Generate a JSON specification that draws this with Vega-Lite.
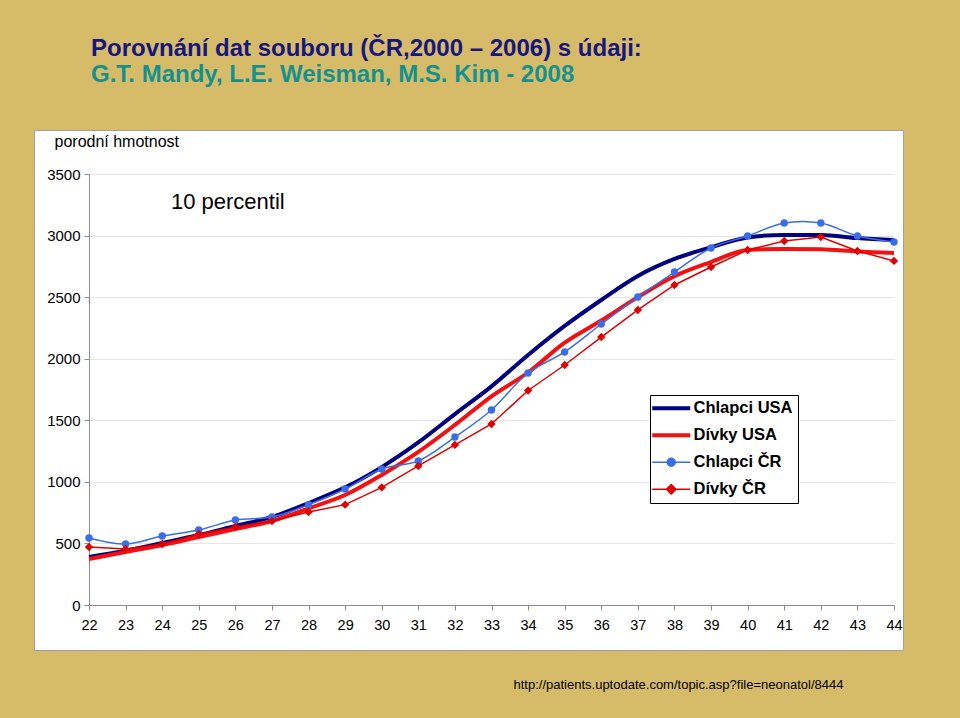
{
  "$schema": "https://vega.github.io/schema/vega-lite/v6.json",
  "width": 869,
  "height": 520,
  "autosize": "none",
  "padding": {"left": 34, "top": 130, "right": 57, "bottom": 68},
  "background": "#d6bc69",
  "config": {
    "view": {"fill": "white", "stroke": "#a0a0a0"},
    "font": "Liberation Sans"
  },
  "title": {
    "text": "Porovnání dat souboru (ČR,2000 – 2006) s údaji:",
    "subtitle": "G.T. Mandy, L.E. Weisman, M.S. Kim - 2008",
    "anchor": "start",
    "frame": "group",
    "dx": 57,
    "offset": 43,
    "font": "Liberation Sans",
    "fontSize": 24,
    "fontWeight": "bold",
    "color": "#16167e",
    "subtitleFont": "Liberation Sans",
    "subtitleFontSize": 24,
    "subtitleFontWeight": "bold",
    "subtitleColor": "#14918e",
    "subtitlePadding": 2
  },
  "data": {
    "values": [
      {"week": 22, "weight": 390, "series": "Chlapci USA"},
      {"week": 23, "weight": 440, "series": "Chlapci USA"},
      {"week": 24, "weight": 503, "series": "Chlapci USA"},
      {"week": 25, "weight": 568, "series": "Chlapci USA"},
      {"week": 26, "weight": 642, "series": "Chlapci USA"},
      {"week": 27, "weight": 715, "series": "Chlapci USA"},
      {"week": 28, "weight": 828, "series": "Chlapci USA"},
      {"week": 29, "weight": 955, "series": "Chlapci USA"},
      {"week": 30, "weight": 1120, "series": "Chlapci USA"},
      {"week": 31, "weight": 1320, "series": "Chlapci USA"},
      {"week": 32, "weight": 1550, "series": "Chlapci USA"},
      {"week": 33, "weight": 1775, "series": "Chlapci USA"},
      {"week": 34, "weight": 2030, "series": "Chlapci USA"},
      {"week": 35, "weight": 2266, "series": "Chlapci USA"},
      {"week": 36, "weight": 2477, "series": "Chlapci USA"},
      {"week": 37, "weight": 2672, "series": "Chlapci USA"},
      {"week": 38, "weight": 2810, "series": "Chlapci USA"},
      {"week": 39, "weight": 2905, "series": "Chlapci USA"},
      {"week": 40, "weight": 2985, "series": "Chlapci USA"},
      {"week": 41, "weight": 3005, "series": "Chlapci USA"},
      {"week": 42, "weight": 3005, "series": "Chlapci USA"},
      {"week": 43, "weight": 2980, "series": "Chlapci USA"},
      {"week": 44, "weight": 2964, "series": "Chlapci USA"},
      {"week": 22, "weight": 374, "series": "Dívky USA"},
      {"week": 23, "weight": 430, "series": "Dívky USA"},
      {"week": 24, "weight": 487, "series": "Dívky USA"},
      {"week": 25, "weight": 552, "series": "Dívky USA"},
      {"week": 26, "weight": 617, "series": "Dívky USA"},
      {"week": 27, "weight": 682, "series": "Dívky USA"},
      {"week": 28, "weight": 785, "series": "Dívky USA"},
      {"week": 29, "weight": 893, "series": "Dívky USA"},
      {"week": 30, "weight": 1056, "series": "Dívky USA"},
      {"week": 31, "weight": 1243, "series": "Dívky USA"},
      {"week": 32, "weight": 1462, "series": "Dívky USA"},
      {"week": 33, "weight": 1695, "series": "Dívky USA"},
      {"week": 34, "weight": 1888, "series": "Dívky USA"},
      {"week": 35, "weight": 2130, "series": "Dívky USA"},
      {"week": 36, "weight": 2310, "series": "Dívky USA"},
      {"week": 37, "weight": 2500, "series": "Dívky USA"},
      {"week": 38, "weight": 2670, "series": "Dívky USA"},
      {"week": 39, "weight": 2785, "series": "Dívky USA"},
      {"week": 40, "weight": 2883, "series": "Dívky USA"},
      {"week": 41, "weight": 2891, "series": "Dívky USA"},
      {"week": 42, "weight": 2888, "series": "Dívky USA"},
      {"week": 43, "weight": 2870, "series": "Dívky USA"},
      {"week": 44, "weight": 2858, "series": "Dívky USA"},
      {"week": 22, "weight": 544, "series": "Chlapci ČR"},
      {"week": 23, "weight": 495, "series": "Chlapci ČR"},
      {"week": 24, "weight": 560, "series": "Chlapci ČR"},
      {"week": 25, "weight": 609, "series": "Chlapci ČR"},
      {"week": 26, "weight": 690, "series": "Chlapci ČR"},
      {"week": 27, "weight": 714, "series": "Chlapci ČR"},
      {"week": 28, "weight": 815, "series": "Chlapci ČR"},
      {"week": 29, "weight": 942, "series": "Chlapci ČR"},
      {"week": 30, "weight": 1104, "series": "Chlapci ČR"},
      {"week": 31, "weight": 1170, "series": "Chlapci ČR"},
      {"week": 32, "weight": 1364, "series": "Chlapci ČR"},
      {"week": 33, "weight": 1584, "series": "Chlapci ČR"},
      {"week": 34, "weight": 1884, "series": "Chlapci ČR"},
      {"week": 35, "weight": 2055, "series": "Chlapci ČR"},
      {"week": 36, "weight": 2282, "series": "Chlapci ČR"},
      {"week": 37, "weight": 2501, "series": "Chlapci ČR"},
      {"week": 38, "weight": 2704, "series": "Chlapci ČR"},
      {"week": 39, "weight": 2899, "series": "Chlapci ČR"},
      {"week": 40, "weight": 2997, "series": "Chlapci ČR"},
      {"week": 41, "weight": 3102, "series": "Chlapci ČR"},
      {"week": 42, "weight": 3102, "series": "Chlapci ČR"},
      {"week": 43, "weight": 2997, "series": "Chlapci ČR"},
      {"week": 44, "weight": 2948, "series": "Chlapci ČR"},
      {"week": 22, "weight": 471, "series": "Dívky ČR"},
      {"week": 23, "weight": 455, "series": "Dívky ČR"},
      {"week": 24, "weight": 495, "series": "Dívky ČR"},
      {"week": 25, "weight": 577, "series": "Dívky ČR"},
      {"week": 26, "weight": 633, "series": "Dívky ČR"},
      {"week": 27, "weight": 682, "series": "Dívky ČR"},
      {"week": 28, "weight": 755, "series": "Dívky ČR"},
      {"week": 29, "weight": 815, "series": "Dívky ČR"},
      {"week": 30, "weight": 955, "series": "Dívky ČR"},
      {"week": 31, "weight": 1129, "series": "Dívky ČR"},
      {"week": 32, "weight": 1300, "series": "Dívky ČR"},
      {"week": 33, "weight": 1470, "series": "Dívky ČR"},
      {"week": 34, "weight": 1742, "series": "Dívky ČR"},
      {"week": 35, "weight": 1949, "series": "Dívky ČR"},
      {"week": 36, "weight": 2176, "series": "Dívky ČR"},
      {"week": 37, "weight": 2396, "series": "Dívky ČR"},
      {"week": 38, "weight": 2599, "series": "Dívky ČR"},
      {"week": 39, "weight": 2745, "series": "Dívky ČR"},
      {"week": 40, "weight": 2883, "series": "Dívky ČR"},
      {"week": 41, "weight": 2956, "series": "Dívky ČR"},
      {"week": 42, "weight": 2988, "series": "Dívky ČR"},
      {"week": 43, "weight": 2875, "series": "Dívky ČR"},
      {"week": 44, "weight": 2794, "series": "Dívky ČR"}
    ]
  },
  "layer": [
    {
      "encoding": {
        "x": {
          "field": "week",
          "type": "quantitative",
          "scale": {"domain": [22, 44], "range": [55, 860], "nice": false, "zero": false},
          "axis": {
            "values": [22, 23, 24, 25, 26, 27, 28, 29, 30, 31, 32, 33, 34, 35, 36, 37, 38, 39, 40, 41, 42, 43, 44],
            "offset": -45,
            "grid": false,
            "domainColor": "#8c8c8c",
            "tickColor": "#8c8c8c",
            "tickSize": 5,
            "labelFont": "Liberation Sans",
            "labelFontSize": 14.5,
            "labelColor": "#000000",
            "labelPadding": 8,
            "labelFlush": false,
            "labelOverlap": false,
            "title": "http://patients.uptodate.com/topic.asp?file=neonatol/8444",
            "titleX": 479,
            "titleY": 83,
            "titleAlign": "left",
            "titleAnchor": null,
            "titleBaseline": "alphabetic",
            "titleFont": "Liberation Sans",
            "titleFontSize": 13,
            "titleFontWeight": "normal",
            "titleColor": "#000000"
          }
        },
        "y": {
          "field": "weight",
          "type": "quantitative",
          "scale": {"domain": [0, 3500], "range": [475, 44], "nice": false},
          "axis": {
            "values": [0, 500, 1000, 1500, 2000, 2500, 3000, 3500],
            "format": "d",
            "offset": -55,
            "grid": true,
            "gridColor": "#e4e4e4",
            "domainColor": "#8c8c8c",
            "tickColor": "#8c8c8c",
            "tickSize": 5,
            "labelFont": "Liberation Sans",
            "labelFontSize": 15,
            "labelColor": "#000000",
            "labelPadding": 4,
            "title": "porodní hmotnost",
            "titleAngle": 0,
            "titleX": -35,
            "titleY": 16,
            "titleAlign": "left",
            "titleAnchor": null,
            "titleBaseline": "alphabetic",
            "titleFont": "Liberation Sans",
            "titleFontSize": 16,
            "titleFontWeight": "normal",
            "titleColor": "#000000"
          }
        },
        "color": {
          "field": "series",
          "type": "nominal",
          "scale": {
            "domain": ["Chlapci USA", "Dívky USA", "Chlapci ČR", "Dívky ČR"],
            "range": ["#000080", "#f21010", "#3a6ee8", "#e00000"]
          },
          "legend": {
            "title": null,
            "orient": "none",
            "legendX": 616,
            "legendY": 265,
            "padding": 5,
            "strokeColor": "#000000",
            "fillColor": "#ffffff",
            "rowPadding": 10,
            "symbolSize": 256,
            "labelOffset": 22,
            "labelFont": "Liberation Sans",
            "labelFontSize": 16.5,
            "labelFontWeight": "bold",
            "labelColor": "#000000",
            "encode": {
              "symbols": {
                "update": {
                  "shape": {"signal": "datum.value == 'Chlapci USA' || datum.value == 'Dívky USA' ? 'M-1.375,0H3.375' : (datum.value == 'Chlapci ČR' ? 'M-1.375,0H3.375M0.5,0A0.5,0.5 0 1,1 1.5,0A0.5,0.5 0 1,1 0.5,0Z' : 'M-1.375,0H3.375M1,-0.6L1.6,0L1,0.6L0.4,0Z')"},
                  "strokeWidth": {"signal": "datum.value == 'Chlapci USA' || datum.value == 'Dívky USA' ? 4 : 1.5"},
                  "fill": {"signal": "scale('color', datum.value)"},
                  "stroke": {"signal": "scale('color', datum.value)"},
                  "opacity": {"value": 1}
                }
              }
            }
          }
        }
      },
      "layer": [
        {
          "transform": [{"filter": {"field": "series", "oneOf": ["Chlapci USA", "Dívky USA"]}}],
          "mark": {"type": "line", "strokeWidth": 4, "interpolate": "monotone"}
        },
        {
          "transform": [{"filter": {"field": "series", "equal": "Chlapci ČR"}}],
          "mark": {"type": "line", "strokeWidth": 1.5, "interpolate": "catmull-rom"}
        },
        {
          "transform": [{"filter": {"field": "series", "equal": "Dívky ČR"}}],
          "mark": {"type": "line", "strokeWidth": 1.5}
        },
        {
          "transform": [{"filter": {"field": "series", "equal": "Chlapci ČR"}}],
          "mark": {"type": "point", "shape": "circle", "filled": true, "size": 55, "opacity": 1}
        },
        {
          "transform": [{"filter": {"field": "series", "equal": "Dívky ČR"}}],
          "mark": {"type": "point", "shape": "diamond", "filled": true, "size": 70, "opacity": 1}
        }
      ]
    },
    {
      "data": {"values": [{"label": "10 percentil"}]},
      "mark": {"type": "text", "align": "left", "baseline": "middle", "font": "Liberation Sans", "fontSize": 22, "color": "#000000"},
      "encoding": {
        "x": {
          "datum": 24.24,
          "type": "quantitative",
          "axis": {
            "values": [22, 23, 24, 25, 26, 27, 28, 29, 30, 31, 32, 33, 34, 35, 36, 37, 38, 39, 40, 41, 42, 43, 44],
            "offset": -45,
            "grid": false,
            "domainColor": "#8c8c8c",
            "tickColor": "#8c8c8c",
            "tickSize": 5,
            "labelFont": "Liberation Sans",
            "labelFontSize": 14.5,
            "labelColor": "#000000",
            "labelPadding": 8,
            "labelFlush": false,
            "labelOverlap": false,
            "title": "http://patients.uptodate.com/topic.asp?file=neonatol/8444",
            "titleX": 479,
            "titleY": 83,
            "titleAlign": "left",
            "titleAnchor": null,
            "titleBaseline": "alphabetic",
            "titleFont": "Liberation Sans",
            "titleFontSize": 13,
            "titleFontWeight": "normal",
            "titleColor": "#000000"
          }
        },
        "y": {
          "datum": 3273,
          "type": "quantitative",
          "axis": {
            "values": [0, 500, 1000, 1500, 2000, 2500, 3000, 3500],
            "format": "d",
            "offset": -55,
            "grid": true,
            "gridColor": "#e4e4e4",
            "domainColor": "#8c8c8c",
            "tickColor": "#8c8c8c",
            "tickSize": 5,
            "labelFont": "Liberation Sans",
            "labelFontSize": 15,
            "labelColor": "#000000",
            "labelPadding": 4,
            "title": "porodní hmotnost",
            "titleAngle": 0,
            "titleX": -35,
            "titleY": 16,
            "titleAlign": "left",
            "titleAnchor": null,
            "titleBaseline": "alphabetic",
            "titleFont": "Liberation Sans",
            "titleFontSize": 16,
            "titleFontWeight": "normal",
            "titleColor": "#000000"
          }
        },
        "text": {"field": "label", "type": "nominal"}
      }
    }
  ]
}
